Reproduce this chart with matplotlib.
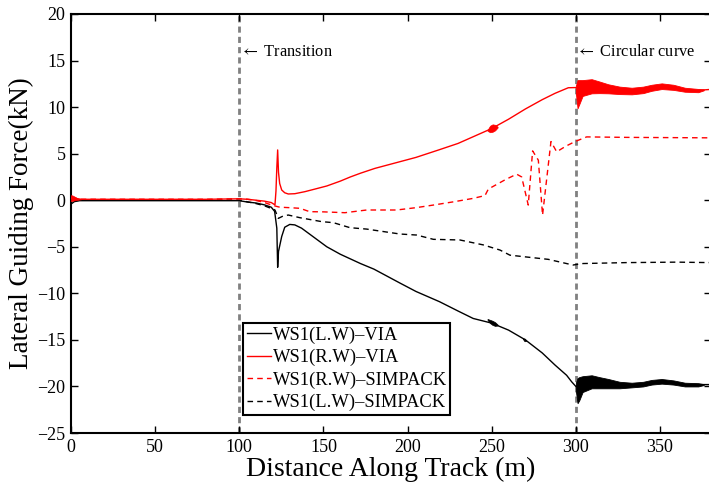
import matplotlib
matplotlib.use("Agg")
import matplotlib.pyplot as plt
import numpy as np

plt.rcParams['font.family'] = ['Liberation Serif', 'DejaVu Serif']
plt.rcParams['mathtext.fontset'] = 'stix'
plt.rcParams['axes.unicode_minus'] = True

# --- WS1 (L.W) - VIA : mean trace ---
lw_via_x = [0, 0.5, 2, 5, 20, 50, 80, 100, 105, 110, 115, 119, 121, 122.3, 122.8,
            123.3, 125.2, 127, 130, 133, 137, 143, 149, 152, 160, 172, 180, 195.5,
            205, 219, 230, 239, 250, 260, 270, 280, 287.6, 294.5, 297.5, 300,
            309.4, 319.3, 333.2, 351, 364.8, 372.7, 380]
lw_via_y = [-0.3, -0.35, -0.15, -0.05, -0.05, -0.05, -0.05, -0.05, -0.2, -0.3, -0.5,
            -0.75, -1.2, -3.0, -7.2, -5.5, -3.9, -2.9, -2.6, -2.65, -3.0, -3.8, -4.6,
            -5.0, -5.8, -6.8, -7.4, -8.9, -9.8, -10.9, -11.9, -12.7, -13.2, -13.95,
            -15.0, -16.4, -17.7, -18.8, -19.5, -20.0,
            -19.5, -19.7, -19.85, -19.45, -19.8, -19.8, -19.8]

# --- WS1 (R.W) - VIA : mean trace ---
rw_via_x = [0, 0.5, 2, 4, 6, 20, 50, 80, 100, 105, 110, 115, 119, 121.2, 121.8,
            122.3, 122.8, 123.3, 124, 125.2, 127, 129.1, 133, 139, 145, 152, 160,
            166, 172, 180.6, 195.5, 205, 218.3, 230, 240, 250, 260, 270, 280,
            287.6, 295.5, 300, 309.4, 319.3, 333.2, 351, 364.8, 372.7, 380]
rw_via_y = [0.2, 0.3, 0.25, 0.15, 0.1, 0.1, 0.1, 0.1, 0.15, 0.1, 0.0, -0.1, -0.25,
            -0.5, 1.0, 3.5, 5.4, 3.0, 1.8, 1.1, 0.8, 0.67, 0.7, 0.92, 1.2, 1.53, 2.05,
            2.5, 2.9, 3.42, 4.14, 4.6, 5.39, 6.1, 6.9, 7.7, 8.7, 9.8, 10.8,
            11.48, 12.08, 12.1, 12.25, 11.95, 11.75, 12.25, 11.85, 11.8, 11.9]

# --- high-frequency oscillation envelopes of the VIA traces ---
osc_x = [300, 301, 302, 304, 309.4, 314, 319.3, 326, 333.2, 340, 345, 351, 358,
         364.8, 372.7, 376]
lw_osc_lo = [-20.5, -21.8, -21.5, -20.6, -20.2, -20.2, -20.2, -20.2, -20.1, -20.0,
             -19.8, -19.7, -19.8, -20.0, -20.0, -19.85]
lw_osc_hi = [-19.6, -19.1, -19.0, -18.9, -18.8, -19.0, -19.2, -19.5, -19.6, -19.5,
             -19.3, -19.2, -19.35, -19.6, -19.65, -19.75]
rw_osc_lo = [11.5, 9.87, 10.3, 11.2, 11.48, 11.5, 11.48, 11.4, 11.37, 11.5, 11.75,
             11.94, 11.85, 11.65, 11.6, 11.8]
rw_osc_hi = [12.3, 12.9, 12.9, 12.9, 13.0, 12.75, 12.45, 12.2, 12.08, 12.2, 12.4,
             12.55, 12.4, 12.08, 11.95, 11.9]

start_osc_x = [0, 1, 2.5, 4, 6]
rw_start_lo = [-0.1, -0.05, 0.0, 0.05, 0.1]
rw_start_hi = [0.55, 0.5, 0.35, 0.2, 0.1]

mid_osc_x = [247.5, 249, 250.5, 252, 253.5]
rw_mid_lo = [7.45, 7.3, 7.35, 7.5, 7.8]
rw_mid_hi = [7.55, 8.0, 8.15, 8.1, 7.9]
lw_mid_lo = [-12.85, -13.2, -13.4, -13.5, -13.45]
lw_mid_hi = [-12.75, -12.85, -12.95, -13.1, -13.35]

blip_x = [268.5, 269.5, 270.5]
lw_blip_lo = [-14.9, -15.15, -15.1]
lw_blip_hi = [-14.85, -14.85, -15.05]

# --- WS1 (R.W) - SIMPACK ---
rw_sim_x = [0, 20, 50, 80, 100, 105, 109.3, 115, 119.2, 124, 130, 136.1, 141.8,
            150, 162.8, 175.7, 193.5, 205, 215.3, 228, 239, 246, 248, 252, 258,
            264.8, 267.8, 271.7, 274.3, 277.7, 280.2, 285.2, 288.6, 294, 299.5,
            306.4, 330, 360, 380]
rw_sim_y = [0.1, 0.1, 0.1, 0.1, 0.15, 0.1, 0.0, -0.25, -0.52, -0.75, -0.8, -0.87,
            -1.23, -1.25, -1.34, -1.05, -1.05, -0.8, -0.52, -0.15, 0.2, 0.5, 1.2,
            1.6, 2.2, 2.8, 2.5, -0.52, 5.3, 4.3, -1.6, 6.3, 5.2, 5.8, 6.3, 6.8,
            6.75, 6.72, 6.7]

# --- WS1 (L.W) - SIMPACK ---
lw_sim_x = [0, 50, 100, 109.3, 115, 121.2, 123.2, 126, 129.1, 136.1, 149, 155.9,
            165.8, 175.7, 195.5, 205.4, 215.3, 231.1, 245, 254.9, 260.8, 270.8,
            283.6, 298.3, 304.2, 330, 360, 380]
lw_sim_y = [0.0, 0.0, 0.0, -0.33, -0.6, -1.05, -1.95, -1.7, -1.59, -1.88, -2.3,
            -2.41, -2.95, -3.1, -3.63, -3.74, -4.2, -4.27, -4.8, -5.35, -5.9, -6.1,
            -6.35, -6.96, -6.8, -6.7, -6.65, -6.7]

section_x = [100, 300]
section_names = ["Transition", "Circular curve"]

x_ticks = [0, 50, 100, 150, 200, 250, 300, 350]
y_ticks = [-25, -20, -15, -10, -5, 0, 5, 10, 15, 20]

W, H = 709, 483
fig = plt.figure(figsize=(W / 100, H / 100), dpi=100)
ax = fig.add_axes([71 / W, 50 / H, 639.5 / W, 419 / H])

red = '#ff0000'
blk = '#000000'

# section boundaries
for xs, name in zip(section_x, section_names):
    ax.axvline(xs, color='#808080', lw=2.0, ls=(0, (2.2, 1.5)), zorder=1)
    ax.text(xs + 0.2, 15.9, r"$\leftarrow$ " + name, fontsize=11.8, va='center',
            ha='left')

# VIA traces with their oscillation envelopes
l1, = ax.plot(lw_via_x, lw_via_y, color=blk, lw=1.0, zorder=3)
l2, = ax.plot(rw_via_x, rw_via_y, color=red, lw=1.0, zorder=3)
ax.fill_between(osc_x, lw_osc_lo, lw_osc_hi, color=blk, lw=0.6, zorder=3)
ax.fill_between(osc_x, rw_osc_lo, rw_osc_hi, color=red, lw=0.6, zorder=3)
ax.fill_between(start_osc_x, rw_start_lo, rw_start_hi, color=red, lw=0.5, zorder=3)
ax.fill_between(mid_osc_x, rw_mid_lo, rw_mid_hi, color=red, lw=0.5, zorder=3)
ax.fill_between(mid_osc_x, lw_mid_lo, lw_mid_hi, color=blk, lw=0.5, zorder=3)
ax.fill_between(blip_x, lw_blip_lo, lw_blip_hi, color=blk, lw=0.5, zorder=3)

# SIMPACK traces
l3, = ax.plot(rw_sim_x, rw_sim_y, color=red, lw=1.0, ls=(0, (4, 3)), zorder=2)
l4, = ax.plot(lw_sim_x, lw_sim_y, color=blk, lw=1.0, ls=(0, (4, 3)), zorder=2)

ax.set_xlim(0, 380)
ax.set_ylim(-25, 20)
ax.set_xticks(x_ticks)
ax.set_yticks(y_ticks)
ax.tick_params(direction='in', top=True, right=True, length=5, width=1.0,
               labelsize=13, pad=4)
for s in ax.spines.values():
    s.set_linewidth(1.5)

ax.set_xlabel("Distance Along Track (m)", fontsize=20, labelpad=1)
ax.set_ylabel("Lateral Guiding Force(kN)", fontsize=19.5, labelpad=2)

leg = ax.legend([l1, l2, l3, l4],
                ["WS1(L.W)\u2013VIA", "WS1(R.W)\u2013VIA",
                 "WS1(R.W)\u2013SIMPACK", "WS1(L.W)\u2013SIMPACK"],
                loc='lower left', bbox_to_anchor=(0.269, 0.043), fontsize=13.3,
                frameon=True, fancybox=False, edgecolor='black', framealpha=1,
                handlelength=1.3, handletextpad=0.1, borderpad=0.2,
                labelspacing=0.28, borderaxespad=0)
leg.get_frame().set_linewidth(1.5)

fig.savefig("out.png", dpi=100)
